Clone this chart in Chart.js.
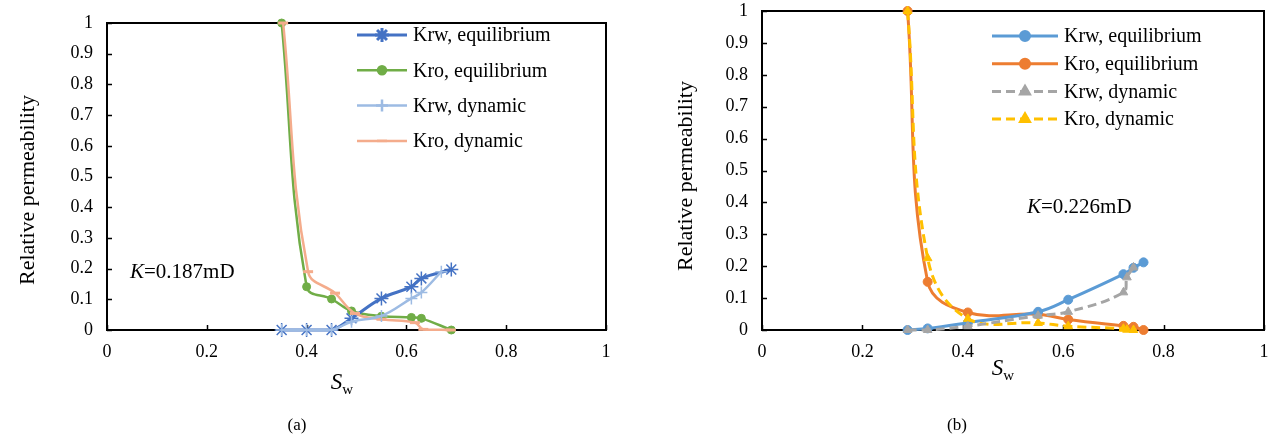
<!DOCTYPE html>
<html>
<head>
<meta charset="utf-8">
<script src="https://cdn.jsdelivr.net/npm/chart.js@4.4.1/dist/chart.umd.min.js"></script>
<style>
  body { margin: 0; background: #fff; }
  #page { position: relative; width: 1272px; height: 440px; overflow: hidden;
          font-family: 'Liberation Serif', 'Times New Roman', serif; color: #000; }
  canvas { position: absolute; top: 0; }
  .txt { position: absolute; white-space: nowrap; line-height: 1; transform: translate(-50%, -50%); }
  .ytitle { font-size: 22px; transform: translate(-50%, -50%) rotate(-90deg); }
  .xtitle { font-size: 23px; }
  .xtitle sub { font-size: 15px; font-style: normal; vertical-align: -5px; }
  .note { font-size: 21px; transform: translate(0, -50%); }
  .cap { font-size: 17px; }
</style>
</head>
<body>
<div id="page">
  <canvas id="chartA" width="640" height="380" style="left:0"></canvas>
  <canvas id="chartB" width="632" height="380" style="left:640px"></canvas>

  <div class="txt ytitle" style="left:27px; top:190px">Relative permeability</div>
  <div class="txt ytitle" style="left:685px; top:176px">Relative permeability</div>
  <div class="txt xtitle" style="left:342px; top:383px"><i>S</i><sub>w</sub></div>
  <div class="txt xtitle" style="left:1003px; top:369px"><i>S</i><sub>w</sub></div>
  <div class="txt note" style="left:130px; top:271px"><i>K</i>=0.187mD</div>
  <div class="txt note" style="left:1027px; top:206px"><i>K</i>=0.226mD</div>
  <div class="txt cap" style="left:297px; top:424px">(a)</div>
  <div class="txt cap" style="left:957px; top:424px">(b)</div>
</div>

<script>
// ---- data, panel (a) K=0.187mD ----
const swA_eq    = [0.35, 0.40, 0.45, 0.49, 0.55, 0.61, 0.63, 0.69];
const krwA_eq   = [0, 0, 0, 0.038, 0.103, 0.141, 0.168, 0.197];
const kroA_eq   = [1.0, 0.141, 0.101, 0.062, 0.045, 0.041, 0.038, 0];
const swA_dynW  = [0.35, 0.40, 0.45, 0.49, 0.55, 0.61, 0.63, 0.67];
const krwA_dyn  = [0, 0, 0, 0.027, 0.046, 0.103, 0.122, 0.19];
const swA_dynO  = [0.353, 0.403, 0.457, 0.497, 0.55, 0.617, 0.634, 0.689];
const kroA_dyn  = [1.0, 0.19, 0.12, 0.054, 0.035, 0.024, 0.002, 0];

// ---- data, panel (b) K=0.226mD ----
const swB_eq    = [0.29, 0.33, 0.41, 0.55, 0.61, 0.72, 0.74, 0.76];
const krwB_eq   = [0, 0.005, 0.023, 0.057, 0.095, 0.175, 0.195, 0.212];
const kroB_eq   = [1.0, 0.151, 0.055, 0.049, 0.033, 0.013, 0.010, 0];
const swB_dyn   = [0.29, 0.33, 0.41, 0.55, 0.61, 0.72, 0.727, 0.74];
const krwB_dyn  = [0, 0, 0.012, 0.045, 0.057, 0.118, 0.165, 0.196];
const kroB_dyn  = [1.0, 0.225, 0.035, 0.022, 0.012, 0.004, 0.001, 0];

const seriesNames = ['Krw, equilibrium', 'Kro, equilibrium', 'Krw, dynamic', 'Kro, dynamic'];
const xTickLabels = ['0', '0.2', '0.4', '0.6', '0.8', '1'];
const yTickLabels = ['0', '0.1', '0.2', '0.3', '0.4', '0.5', '0.6', '0.7', '0.8', '0.9', '1'];

const FONT = "'Liberation Serif', 'Times New Roman', serif";

function pts(xs, ys) {
  return xs.map((x, i) => ({ x, y: ys[i] }));
}

function series(label, xs, ys, color, style) {
  return Object.assign({
    label,
    data: pts(xs, ys),
    borderColor: color,
    backgroundColor: color,
    pointBackgroundColor: color,
    pointBorderColor: color,
    borderWidth: 2.5,
    pointRadius: 4,
    pointBorderWidth: 1,
    pointStyle: 'circle',
    tension: 0.4,
    clip: false,
  }, style);
}

// inside tick marks + plot box, Excel style
const framePlugin = {
  id: 'frame',
  beforeDatasetsDraw(chart) {
    const { ctx, chartArea: a, scales } = chart;
    ctx.save();
    ctx.strokeStyle = '#000';
    ctx.lineWidth = 2;
    ctx.strokeRect(a.left, a.top, a.right - a.left, a.bottom - a.top);
    ctx.lineWidth = 1.5;
    ctx.beginPath();
    scales.y.ticks.forEach((t, i) => {
      const y = Math.round(scales.y.getPixelForTick(i)) + 0.5;
      ctx.moveTo(a.left, y);
      ctx.lineTo(a.left + 5, y);
    });
    scales.x.ticks.forEach((t, i) => {
      const x = Math.round(scales.x.getPixelForTick(i)) + 0.5;
      ctx.moveTo(x, a.bottom);
      ctx.lineTo(x, a.bottom - 5);
    });
    ctx.stroke();
    ctx.restore();
  },
};

// legend drawn inside the plot area
const insideLegend = {
  id: 'insideLegend',
  afterDraw(chart, args, opts) {
    const ctx = chart.ctx;
    ctx.save();
    chart.data.datasets.forEach((ds, i) => {
      const y = opts.y + i * opts.rowH;
      ctx.strokeStyle = ds.borderColor;
      ctx.fillStyle = ds.borderColor;
      ctx.lineWidth = ds.borderWidth;
      ctx.setLineDash(ds.borderDash || []);
      ctx.beginPath();
      ctx.moveTo(opts.x, y);
      ctx.lineTo(opts.x + opts.len, y);
      ctx.stroke();
      ctx.setLineDash([]);
      const mark = { pointStyle: ds.pointStyle, radius: ds.pointRadius, rotation: 0, borderWidth: ds.pointBorderWidth };
      if (Chart.helpers && Chart.helpers.drawPoint) {
        Chart.helpers.drawPoint(ctx, mark, opts.x + opts.len / 2, y);
      }
      ctx.fillStyle = '#000';
      ctx.font = `${opts.fontSize}px ${FONT}`;
      ctx.textBaseline = 'middle';
      ctx.fillText(ds.label, opts.x + opts.len + 6, y + 1);
    });
    ctx.restore();
  },
};

function makeOptions(axisWidth, padTop, padRight, legend) {
  return {
    responsive: false,
    animation: false,
    devicePixelRatio: 1,
    layout: { padding: { top: padTop, right: padRight, left: 0, bottom: 0 } },
    plugins: {
      legend: { display: false },
      tooltip: { enabled: false },
      insideLegend: legend,
    },
    scales: {
      x: {
        type: 'linear', min: 0, max: 1,
        grid: { display: false, drawTicks: false },
        border: { display: false },
        ticks: {
          stepSize: 0.2, autoSkip: false, maxRotation: 0, padding: 11,
          color: '#000', font: { family: FONT, size: 18 },
          callback: (v, i) => xTickLabels[i],
        },
        afterFit: s => { s.height = 50; s.paddingLeft = 0; s.paddingRight = 0; },
      },
      y: {
        type: 'linear', min: 0, max: 1,
        grid: { display: false, drawTicks: false },
        border: { display: false },
        ticks: {
          stepSize: 0.1, autoSkip: false, padding: 14,
          color: '#000', font: { family: FONT, size: 18 },
          callback: (v, i) => yTickLabels[i],
        },
        afterFit: s => { s.width = axisWidth; s.paddingTop = 0; s.paddingBottom = 0; },
      },
    },
  };
}

// panel (a)
new Chart(document.getElementById('chartA'), {
  type: 'line',
  data: {
    datasets: [
      series(seriesNames[0], swA_eq, krwA_eq, '#4472C4', { pointStyle: 'star', pointRadius: 7, pointBorderWidth: 1.5, borderWidth: 3, order: 1 }),
      series(seriesNames[1], swA_eq, kroA_eq, '#70AD47', { pointStyle: 'circle', pointRadius: 4, borderWidth: 2.5, order: 1 }),
      series(seriesNames[2], swA_dynW, krwA_dyn, '#9DBBE3', { pointStyle: 'cross', pointRadius: 6, pointBorderWidth: 1.5, borderWidth: 2.5, order: 0 }),
      series(seriesNames[3], swA_dynO, kroA_dyn, '#F4AC8C', { pointStyle: 'line', pointRadius: 5, pointBorderWidth: 3, borderWidth: 2.5, order: 0 }),
    ],
  },
  options: makeOptions(107, 23, 34, { x: 357, y: 35, rowH: 35.3, len: 50, fontSize: 20 }),
  plugins: [framePlugin, insideLegend],
});

// panel (b)
new Chart(document.getElementById('chartB'), {
  type: 'line',
  data: {
    datasets: [
      series(seriesNames[0], swB_eq, krwB_eq, '#5B9BD5', { pointStyle: 'circle', pointRadius: 4.5, borderWidth: 3, order: 1 }),
      series(seriesNames[1], swB_eq, kroB_eq, '#ED7D31', { pointStyle: 'circle', pointRadius: 4.5, borderWidth: 3, order: 1 }),
      series(seriesNames[2], swB_dyn, krwB_dyn, '#A5A5A5', { pointStyle: 'triangle', pointRadius: 5, borderWidth: 3, borderDash: [9, 5], order: 0 }),
      series(seriesNames[3], swB_dyn, kroB_dyn, '#FFC000', { pointStyle: 'triangle', pointRadius: 5, borderWidth: 3, borderDash: [9, 5], order: 0 }),
    ],
  },
  options: makeOptions(122, 11, 8, { x: 352, y: 36, rowH: 27.7, len: 66, fontSize: 20 }),
  plugins: [framePlugin, insideLegend],
});
</script>
</body>
</html>
